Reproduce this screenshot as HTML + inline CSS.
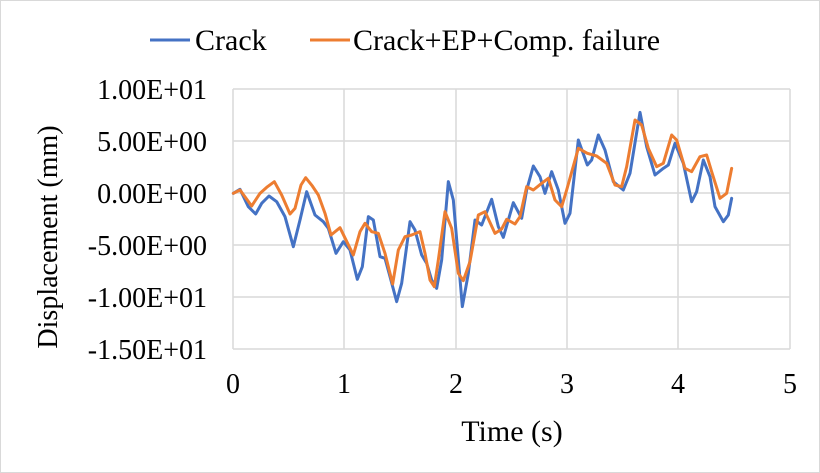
<!DOCTYPE html><html><head><style>body{margin:0;background:#fff}svg{display:block;font-family:"Liberation Serif",serif}</style></head><body>
<svg width="820" height="473" viewBox="0 0 820 473">
<rect x="0.5" y="0.5" width="819" height="472" fill="#fff" stroke="#d9d9d9"/>
<g stroke="#d9d9d9" stroke-width="1.5">
<line x1="233" y1="89" x2="790" y2="89"/><line x1="233" y1="141" x2="790" y2="141"/><line x1="233" y1="193" x2="790" y2="193"/><line x1="233" y1="245" x2="790" y2="245"/><line x1="233" y1="297" x2="790" y2="297"/><line x1="233" y1="349" x2="790" y2="349"/>
<line x1="233" y1="89" x2="233" y2="349"/><line x1="344" y1="89" x2="344" y2="349"/><line x1="456" y1="89" x2="456" y2="349"/><line x1="567" y1="89" x2="567" y2="349"/><line x1="678" y1="89" x2="678" y2="349"/><line x1="790" y1="89" x2="790" y2="349"/>
</g>
<g font-size="28" text-anchor="end" fill="#000">
<text x="207" y="99">1.00E+01</text><text x="207" y="151">5.00E+00</text><text x="207" y="203">0.00E+00</text><text x="207" y="255">-5.00E+00</text><text x="207" y="307">-1.00E+01</text><text x="207" y="359">-1.50E+01</text>
</g>
<g font-size="28" text-anchor="middle"><text x="233" y="393">0</text><text x="344" y="393">1</text><text x="456" y="393">2</text><text x="567" y="393">3</text><text x="678" y="393">4</text><text x="790" y="393">5</text>
<text x="512" y="441" font-size="30">Time (s)</text>
<text transform="translate(57,237) rotate(-90)">Displacement (mm)</text></g>
<line x1="150" y1="40" x2="190" y2="40" stroke="#4472c4" stroke-width="3"/>
<text x="195" y="50" font-size="30">Crack</text>
<line x1="310" y1="40" x2="350" y2="40" stroke="#ed7d31" stroke-width="3"/>
<text x="353" y="50" font-size="30">Crack+EP+Comp. failure</text>
<g transform="translate(225,80) scale(0.33333)" fill="none" stroke-width="9" stroke-linejoin="round" stroke-linecap="round">
<polyline stroke="#4472c4" points="25,340 45,328 70,380 92,402 110,370 132,348 155,365 180,410 205,500 225,420 245,335 270,405 295,425 310,445 333,520 355,485 375,510 397,598 412,560 430,410 445,420 465,530 480,535 495,590 515,665 530,610 555,425 570,450 590,525 605,550 620,600 635,625 650,540 670,305 685,360 712,680 730,580 750,420 770,435 800,358 820,440 835,472 865,368 890,415 905,330 925,258 945,290 960,340 980,275 1000,330 1020,430 1035,400 1060,180 1087,255 1100,240 1120,165 1140,210 1165,305 1195,330 1215,280 1245,97 1265,200 1290,285 1315,265 1330,255 1350,190 1375,250 1400,365 1415,335 1435,240 1455,290 1470,380 1495,425 1510,405 1520,355"/>
<polyline stroke="#ed7d31" points="25,340 45,330 80,378 105,340 125,322 148,305 170,345 195,402 210,385 228,315 242,293 262,318 280,345 300,400 318,465 345,443 362,478 385,525 405,455 420,430 440,455 460,460 480,520 503,612 520,510 540,470 560,465 585,455 600,520 615,600 628,620 640,540 660,395 680,445 700,580 715,602 735,545 760,405 780,395 810,460 830,447 845,418 870,432 885,410 905,320 925,330 950,310 970,295 990,360 1010,380 1025,330 1060,205 1087,220 1115,228 1145,250 1170,315 1190,320 1205,260 1230,120 1250,135 1270,205 1295,260 1315,250 1340,165 1355,180 1380,265 1400,275 1425,230 1445,225 1460,275 1485,355 1505,340 1520,265"/>
</g>
</svg></body></html>
